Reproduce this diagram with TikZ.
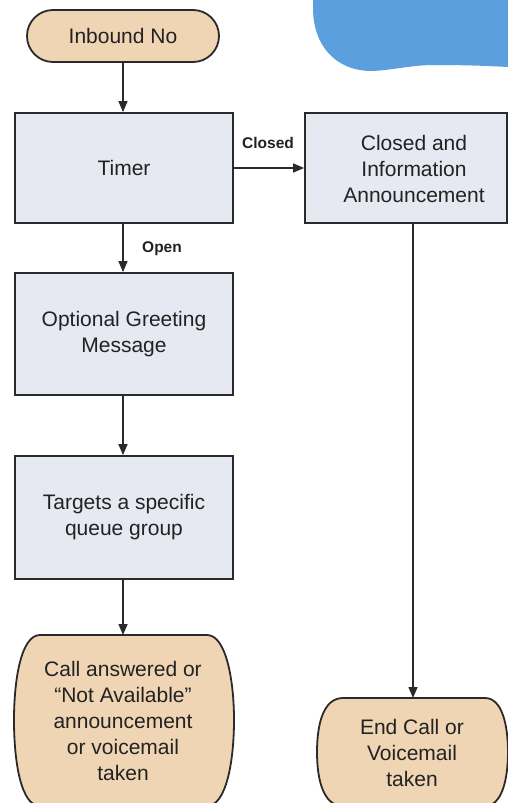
\documentclass[tikz,border=0pt]{standalone}
\usepackage{fontspec}
\setmainfont{Liberation Sans}
\usetikzlibrary{arrows.meta}

\definecolor{termfill}{HTML}{EFD5B4}
\definecolor{boxfill}{HTML}{E6E9F2}
\definecolor{edgecol}{HTML}{2A2A2A}
\definecolor{txtcol}{HTML}{222222}
\definecolor{blobblue}{HTML}{5B9FDF}

\tikzset{
  maintext/.style={font=\fontsize{21}{26}\selectfont, text=txtcol, align=center},
  stepbox/.style={draw=edgecol, line width=1.8pt, fill=boxfill, rectangle, inner sep=0pt},
  termshape/.style={draw=edgecol, line width=1.8pt, fill=termfill},
  flowarrow/.style={draw=edgecol, line width=1.5pt, -{Triangle[length=11pt,width=9pt]}},
  branchlabel/.style={font=\fontsize{15.5}{18}\selectfont\bfseries, text=txtcol},
}

\begin{document}
\begin{tikzpicture}[x=1pt,y=-1pt]
  \useasboundingbox (0,0) rectangle (508,803);
  \clip (0,0) rectangle (508,803);
  \fill[white] (0,0) rectangle (508,803);

  % decorative blue blob, top right
  \fill[blobblue] (313,0) -- (313,8)
    .. controls (313,45) and (335,71) .. (372,71)
    .. controls (395,70) and (410,65) .. (435,65)
    .. controls (465,65) and (490,66) .. (508,67)
    -- (508,0) -- cycle;

  % start terminal
  \node[termshape, maintext, minimum width=192pt, minimum height=52pt,
        rounded corners=26pt] (inb) at (123,36) {Inbound No};

  % process boxes
  \node[stepbox, maintext, minimum width=218pt, minimum height=110pt] (timer) at (124,168) {Timer};
  \node[stepbox, minimum width=202pt, minimum height=110pt] (closed) at (406,168) {};
  \node[maintext] (closedtxt) at (414,169) {Closed and\\Information\\Announcement};
  \node[stepbox, maintext, minimum width=218pt, minimum height=122pt] (greet) at (124,334) {Optional Greeting\\Message};
  \node[stepbox, maintext, minimum width=218pt, minimum height=123pt] (target) at (124,517.5) {Targets a specific\\queue group};

  % end terminals
  \path[termshape] (40,635) -- (207,635)
    .. controls (226,635) and (234,680) .. (234,720)
    .. controls (234,762) and (226,806) .. (207,806)
    -- (40,806)
    .. controls (21,806) and (14,762) .. (14,720)
    .. controls (14,680) and (21,635) .. (40,635) -- cycle;
  \coordinate (calltop) at (123,635);
  \node[maintext] (call) at (123,721) {Call answered or\\“Not Available”\\announcement\\or voicemail\\taken};

  \path[termshape] (343,698) -- (485,698)
    .. controls (502,698) and (508,725) .. (508,752)
    .. controls (508,779) and (502,806) .. (485,806)
    -- (343,806)
    .. controls (323,806) and (317,779) .. (317,752)
    .. controls (317,725) and (323,698) .. (343,698) -- cycle;
  \coordinate (endtop) at (413,698);
  \node[maintext] (endcall) at (412,753) {End Call or\\Voicemail\\taken};

  % connectors
  \draw[flowarrow] (inb.south) -- (inb.south |- timer.north);
  \draw[flowarrow] (timer.east) -- (closed.west);
  \draw[flowarrow] (inb.south |- timer.south) -- (inb.south |- greet.north);
  \draw[flowarrow] (inb.south |- greet.south) -- (inb.south |- target.north);
  \draw[flowarrow] (inb.south |- target.south) -- (calltop);
  \draw[flowarrow] (endtop |- closed.south) -- (endtop);

  % branch labels
  \node[branchlabel] (lblclosed) at (268,143) {Closed};
  \node[branchlabel] (lblopen) at (162,249) {Open};
\end{tikzpicture}
\end{document}
